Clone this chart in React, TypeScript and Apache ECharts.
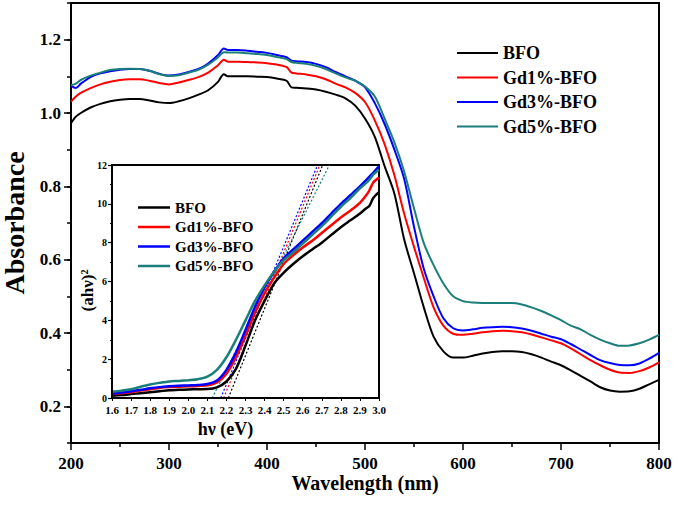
import React, { useEffect, useRef } from "react";
import * as echarts from "echarts";

const seriesNames = ["BFO", "Gd1%-BFO", "Gd3%-BFO", "Gd5%-BFO"];
const seriesColors = ["#000000", "#ff0000", "#0000ff", "#1a7f7a"];

const wavelengths = [200, 205, 210, 220, 230, 240, 250, 260, 270, 280, 290, 300, 310, 320, 330, 340, 350, 356, 360, 370, 380, 390, 400, 410, 420, 425, 430, 440, 450, 460, 470, 480, 490, 500, 510, 520, 530, 540, 550, 560, 570, 580, 590, 600, 610, 620, 630, 640, 650, 660, 670, 680, 690, 700, 710, 720, 730, 740, 750, 760, 770, 780, 790, 800];

const absBFO = [0.972, 0.99, 1.0, 1.015, 1.025, 1.032, 1.036, 1.038, 1.038, 1.034, 1.029, 1.027, 1.032, 1.04, 1.05, 1.062, 1.085, 1.106, 1.1, 1.1, 1.1, 1.099, 1.098, 1.094, 1.088, 1.07, 1.069, 1.067, 1.064, 1.058, 1.05, 1.04, 1.02, 0.985, 0.935, 0.855, 0.78, 0.655, 0.563, 0.47, 0.39, 0.35, 0.333, 0.333, 0.338, 0.344, 0.348, 0.35, 0.35, 0.348, 0.342, 0.333, 0.322, 0.312, 0.298, 0.283, 0.268, 0.252, 0.243, 0.24, 0.241, 0.248, 0.26, 0.272];
const absGd1 = [1.031, 1.045, 1.055, 1.068, 1.078, 1.085, 1.09, 1.092, 1.092, 1.088, 1.082, 1.078, 1.083, 1.09, 1.098, 1.11, 1.13, 1.145, 1.14, 1.14, 1.139, 1.138, 1.136, 1.132, 1.125, 1.11, 1.108, 1.105, 1.1, 1.092, 1.08, 1.07, 1.055, 1.03, 0.98, 0.915, 0.83, 0.725, 0.635, 0.55, 0.47, 0.42, 0.398, 0.395, 0.398, 0.402, 0.405, 0.406, 0.405, 0.402, 0.396, 0.388, 0.38, 0.372, 0.358, 0.342, 0.326, 0.312, 0.3, 0.292, 0.291, 0.296, 0.306, 0.32];
const absGd3 = [1.074, 1.068, 1.08, 1.098, 1.108, 1.114, 1.118, 1.12, 1.12, 1.115, 1.107, 1.102, 1.105, 1.112, 1.12, 1.135, 1.158, 1.176, 1.172, 1.172, 1.17, 1.167, 1.164, 1.158, 1.152, 1.143, 1.141, 1.139, 1.134, 1.125, 1.112, 1.1, 1.088, 1.07, 1.027, 0.97, 0.9, 0.82, 0.69, 0.575, 0.5, 0.44, 0.413, 0.407, 0.41, 0.414, 0.416, 0.417, 0.416, 0.412, 0.406, 0.398, 0.39, 0.383, 0.37, 0.355, 0.34, 0.326, 0.318, 0.313, 0.312, 0.317, 0.33, 0.346];
const absGd5 = [1.076, 1.08, 1.09, 1.102, 1.11, 1.117, 1.12, 1.121, 1.12, 1.115, 1.106, 1.101, 1.103, 1.11, 1.118, 1.132, 1.152, 1.166, 1.165, 1.165, 1.163, 1.161, 1.158, 1.153, 1.147, 1.139, 1.137, 1.134, 1.129, 1.12, 1.108, 1.097, 1.088, 1.072, 1.045, 0.985, 0.92, 0.84, 0.74, 0.645, 0.585, 0.535, 0.5, 0.487, 0.483, 0.482, 0.482, 0.482, 0.482, 0.478, 0.47, 0.46, 0.448, 0.435, 0.42, 0.41, 0.395, 0.382, 0.372, 0.365, 0.366, 0.372, 0.382, 0.395];

const photonEnergy = [1.6, 1.65, 1.7, 1.75, 1.8, 1.85, 1.9, 1.95, 2.0, 2.05, 2.1, 2.15, 2.2, 2.25, 2.3, 2.35, 2.4, 2.45, 2.5, 2.55, 2.6, 2.65, 2.7, 2.75, 2.8, 2.85, 2.9, 2.93, 2.95, 2.97, 3.0];
const taucBFO = [0.12, 0.15, 0.2, 0.25, 0.3, 0.35, 0.4, 0.42, 0.44, 0.45, 0.46, 0.55, 0.85, 1.5, 2.7, 4.0, 5.0, 5.9, 6.45, 6.9, 7.3, 7.65, 8.0, 8.4, 8.8, 9.15, 9.5, 9.75, 9.9, 10.3, 10.6];
const taucGd1 = [0.2, 0.25, 0.3, 0.38, 0.45, 0.52, 0.56, 0.58, 0.6, 0.62, 0.65, 0.8, 1.25, 2.1, 3.2, 4.4, 5.4, 6.2, 6.9, 7.35, 7.75, 8.1, 8.5, 8.9, 9.3, 9.65, 10.05, 10.4, 10.7, 11.1, 11.35];
const taucGd3 = [0.22, 0.28, 0.35, 0.42, 0.5, 0.56, 0.6, 0.63, 0.65, 0.67, 0.72, 0.9, 1.45, 2.35, 3.5, 4.7, 5.7, 6.5, 7.2, 7.65, 8.1, 8.55, 9.0, 9.5, 10.0, 10.45, 10.9, 11.2, 11.4, 11.6, 11.95];
const taucGd5 = [0.33, 0.38, 0.45, 0.58, 0.7, 0.78, 0.85, 0.88, 0.92, 0.97, 1.1, 1.45, 2.1, 3.0, 4.0, 5.0, 5.8, 6.5, 7.1, 7.5, 7.95, 8.4, 8.85, 9.35, 9.85, 10.3, 10.8, 11.05, 11.25, 11.5, 11.75];

// tangent (band-gap extrapolation) lines: energy at (ahv)^2 = 0 and at (ahv)^2 = 12
const tangentStart = [2.21, 2.185, 2.17, 2.125];
const tangentEnd = [2.705, 2.69, 2.678, 2.74];
const tangentY = [0, 12];

const majorYTicks = [0.2, 0.4, 0.6, 0.8, 1.0, 1.2];

const absorbance = [absBFO, absGd1, absGd3, absGd5];
const tauc = [taucBFO, taucGd1, taucGd3, taucGd5];

const FONT = "'Liberation Serif', 'Times New Roman', serif";

export default function App() {
  const ref = useRef<HTMLDivElement>(null);
  useEffect(() => {
    if (!ref.current) return;
    const chart = echarts.init(ref.current, undefined, { renderer: "svg" });
    const txt = (size: number) => ({ fontFamily: FONT, fontWeight: "bold" as const, fontSize: size, color: "#000" });

    const mainSeries = seriesNames.map((name, i) => ({
      name,
      type: "line",
      xAxisIndex: 0,
      yAxisIndex: 0,
      data: wavelengths.map((w, j) => [w, absorbance[i][j]]),
      showSymbol: false,
      smooth: 0.3,
      lineStyle: { color: seriesColors[i], width: 2 },
      itemStyle: { color: seriesColors[i] },
      z: 3,
    }));
    const insetSeries = seriesNames.map((name, i) => ({
      name,
      type: "line",
      xAxisIndex: 1,
      yAxisIndex: 2,
      data: photonEnergy.map((e, j) => [e, tauc[i][j]]),
      showSymbol: false,
      smooth: 0.3,
      lineStyle: { color: seriesColors[i], width: 2.5 },
      itemStyle: { color: seriesColors[i] },
      z: 5,
    }));
    const tangentSeries = seriesNames.map((name, i) => ({
      name: name + " fit",
      type: "line",
      xAxisIndex: 1,
      yAxisIndex: 2,
      data: [[tangentStart[i], tangentY[0]], [tangentEnd[i], tangentY[1]]],
      showSymbol: false,
      lineStyle: { color: seriesColors[i], width: 1.2, type: [2, 2] },
      itemStyle: { color: seriesColors[i] },
      z: 4,
    }));

    chart.setOption({
      animation: false,
      backgroundColor: "#fff",
      grid: [
        { left: 71, top: 3, width: 588, height: 440, show: true, borderColor: "#000", borderWidth: 2, backgroundColor: "transparent", outerBoundsMode: "none", containLabel: false },
        { left: 112, top: 165, width: 267, height: 233, show: true, borderColor: "#000", borderWidth: 2, backgroundColor: "#fff", z: 4, outerBoundsMode: "none", containLabel: false },
      ],
      legend: [
        {
          data: seriesNames,
          orient: "vertical",
          left: 452,
          top: 39,
          itemWidth: 41,
          itemHeight: 2,
          itemGap: 6.5,
          icon: "rect",
          textStyle: { ...txt(18), lineHeight: 18 },
        },
        {
          data: seriesNames,
          orient: "vertical",
          left: 133,
          top: 195,
          itemWidth: 32,
          itemHeight: 2.5,
          itemGap: 4.5,
          icon: "rect",
          textStyle: { ...txt(15), lineHeight: 15 },
          z: 10,
        },
      ],
      xAxis: [
        {
          type: "value",
          gridIndex: 0,
          min: 200,
          max: 800,
          interval: 100,
          name: "Wavelength (nm)",
          nameLocation: "middle",
          nameGap: 30,
          nameMoveOverlap: false,
          nameTextStyle: txt(20),
          axisLine: { lineStyle: { color: "#000", width: 2 } },
          axisTick: { length: 7, lineStyle: { color: "#000", width: 1.5 } },
          minorTick: { show: true, splitNumber: 2, length: 4, lineStyle: { color: "#000", width: 1.5 } },
          axisLabel: { ...txt(17), margin: 12 },
          splitLine: { show: false },
        },
        {
          type: "value",
          gridIndex: 1,
          min: 1.6,
          max: 3.0,
          interval: 0.1,
          name: "hν (eV)",
          nameLocation: "middle",
          nameGap: 22,
          nameMoveOverlap: false,
          nameTextStyle: { ...txt(18), padding: [0, 40, 0, 0] },
          axisLine: { lineStyle: { color: "#000", width: 2 } },
          axisTick: { length: 3, lineStyle: { color: "#000", width: 1 } },
          axisLabel: { ...txt(11), margin: 6, formatter: (v: number) => v.toFixed(1) },
          splitLine: { show: false },
          z: 6,
        },
      ],
      yAxis: [
        {
          type: "value",
          gridIndex: 0,
          min: 0.1,
          max: 1.3,
          interval: 0.1,
          name: "Absorbance",
          nameLocation: "middle",
          nameGap: 43,
          nameMoveOverlap: false,
          nameTextStyle: txt(28),
          axisLine: { lineStyle: { color: "#000", width: 2 } },
          axisTick: { length: 4, lineStyle: { color: "#000", width: 1.5 } },
          axisLabel: {
            ...txt(17),
            margin: 10,
            formatter: (v: number) => (majorYTicks.some((t) => Math.abs(t - v) < 1e-6) ? v.toFixed(1) : ""),
          },
          splitLine: { show: false },
        },
        {
          type: "value",
          gridIndex: 0,
          min: 0.1,
          max: 1.3,
          interval: 0.1,
          position: "left",
          axisLine: { show: false },
          axisTick: { length: 7, customValues: majorYTicks, lineStyle: { color: "#000", width: 1.5 } },
          axisLabel: { show: false },
          splitLine: { show: false },
        },
        {
          type: "value",
          gridIndex: 1,
          min: 0,
          max: 12,
          interval: 2,
          name: "(ahν)²",
          nameLocation: "middle",
          nameGap: 16,
          nameMoveOverlap: false,
          nameTextStyle: { ...txt(17), padding: [0, 18, 0, 0] },
          axisLine: { lineStyle: { color: "#000", width: 2 } },
          axisTick: { length: 4, lineStyle: { color: "#000", width: 1.2 } },
          minorTick: { show: true, splitNumber: 2, length: 2, lineStyle: { color: "#000", width: 1.2 } },
          axisLabel: { ...txt(10), margin: 5 },
          splitLine: { show: false },
          z: 6,
        },
      ],
      series: [...mainSeries, ...tangentSeries, ...insetSeries],
    });
    return () => chart.dispose();
  }, []);
  return <div ref={ref} style={{ position: "fixed", left: 0, top: 0, width: 675, height: 509 }} />;
}
